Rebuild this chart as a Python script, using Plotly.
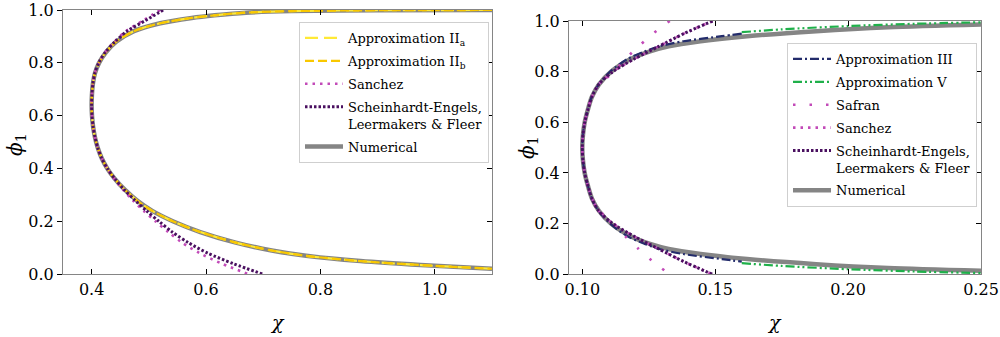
import plotly.graph_objects as go

# ---------------- data: left panel (chi, phi_1) ----------------
L_NUM_CHI = [1.10, 0.90, 0.75, 0.67, 0.615, 0.575, 0.52, 0.474, 0.443, 0.425, 0.413, 0.4058, 0.4022, 0.4006,
             0.400,
             0.4007, 0.4025, 0.4057, 0.4105, 0.4175, 0.4275, 0.441, 0.458, 0.479, 0.506, 0.543,
             0.590, 0.652, 0.715, 0.775, 0.87, 0.975, 1.10]
L_NUM_PHI = [1.000, 0.999, 0.996, 0.990, 0.980, 0.970, 0.950, 0.920, 0.880, 0.840, 0.800, 0.760, 0.720, 0.680,
             0.640,
             0.600, 0.560, 0.520, 0.480, 0.440, 0.400, 0.360, 0.320, 0.280, 0.240, 0.200,
             0.160, 0.120, 0.090, 0.070, 0.050, 0.035, 0.021]
L_IIA_CHI = L_NUM_CHI
L_IIA_PHI = L_NUM_PHI
L_IIB_CHI = L_NUM_CHI
L_IIB_PHI = L_NUM_PHI
L_SAN_CHI = [0.52, 0.49, 0.46, 0.44, 0.4235, 0.4125, 0.4055, 0.4022, 0.4006,
             0.400,
             0.4007, 0.4025, 0.4057, 0.4105, 0.4175, 0.4275, 0.440, 0.455, 0.472, 0.491, 0.512,
             0.534, 0.558, 0.589, 0.628, 0.675]
L_SAN_PHI = [1.00, 0.96, 0.92, 0.88, 0.84, 0.80, 0.76, 0.72, 0.68,
             0.64,
             0.60, 0.56, 0.52, 0.48, 0.44, 0.40, 0.36, 0.32, 0.28, 0.24, 0.20,
             0.16, 0.12, 0.08, 0.04, 0.00]
L_SE_CHI = [0.525, 0.494, 0.462, 0.441, 0.424, 0.4125, 0.4055, 0.4022, 0.4006,
            0.400,
            0.4007, 0.4025, 0.4057, 0.4105, 0.4175, 0.4275, 0.441, 0.457, 0.476, 0.496, 0.518,
            0.541, 0.569, 0.603, 0.648, 0.700]
L_SE_PHI = [1.00, 0.96, 0.92, 0.88, 0.84, 0.80, 0.76, 0.72, 0.68,
            0.64,
            0.60, 0.56, 0.52, 0.48, 0.44, 0.40, 0.36, 0.32, 0.28, 0.24, 0.20,
            0.16, 0.12, 0.08, 0.04, 0.00]

# ---------------- data: right panel (chi, phi_1) ----------------
R_NUM_CHI = [0.25, 0.215, 0.188, 0.162, 0.1445, 0.1325, 0.1255, 0.1182, 0.1108, 0.1063, 0.1036,
             0.1021, 0.1009, 0.10025, 0.100, 0.10025, 0.1009, 0.1021, 0.1036, 0.1063, 0.1108,
             0.1182, 0.1255, 0.1325, 0.1445, 0.162, 0.188, 0.215, 0.25]
R_NUM_PHI = [0.986, 0.975, 0.960, 0.940, 0.920, 0.900, 0.880, 0.850, 0.800, 0.750, 0.700,
             0.650, 0.600, 0.550, 0.500, 0.450, 0.400, 0.350, 0.300, 0.250, 0.200,
             0.150, 0.120, 0.100, 0.080, 0.060, 0.040, 0.025, 0.014]
R_III_CHI = [0.160, 0.1525, 0.138, 0.129, 0.1235, 0.117, 0.1105, 0.1062, 0.1035, 0.1021, 0.1009,
             0.10025, 0.100, 0.10025, 0.1009, 0.1021, 0.1035, 0.1062, 0.1105, 0.117, 0.1235,
             0.129, 0.138, 0.1525, 0.160]
R_III_PHI = [0.950, 0.940, 0.920, 0.900, 0.880, 0.850, 0.800, 0.750, 0.700, 0.650, 0.600,
             0.550, 0.500, 0.450, 0.400, 0.350, 0.300, 0.250, 0.200, 0.150, 0.120,
             0.100, 0.080, 0.060, 0.050]
R_V_CHI = [0.16, 0.175, 0.20, 0.225, 0.25, None, 0.16, 0.175, 0.20, 0.225, 0.25]
R_V_PHI = [0.956, 0.967, 0.980, 0.989, 0.995, None, 0.044, 0.033, 0.020, 0.011, 0.005]
R_SAF_CHI = [0.1329, 0.1266, 0.1212, 0.1162, 0.1120, 0.1065, 0.1036, 0.1021, 0.1009, 0.10025,
             0.100, 0.10025, 0.1009, 0.1021, 0.1036, 0.1065, 0.1120, 0.1162, 0.1212, 0.1266, 0.1329]
R_SAF_PHI = [1.00, 0.95, 0.90, 0.85, 0.80, 0.75, 0.70, 0.65, 0.60, 0.55,
             0.50, 0.45, 0.40, 0.35, 0.30, 0.25, 0.20, 0.15, 0.10, 0.05, 0.00]
R_SE_CHI = [0.149, 0.1382, 0.1288, 0.1195, 0.1115, 0.1062, 0.1036, 0.1021, 0.1009, 0.10025,
            0.100, 0.10025, 0.1009, 0.1021, 0.1036, 0.1062, 0.1115, 0.1195, 0.1288, 0.1382, 0.149]
R_SE_PHI = [1.00, 0.95, 0.90, 0.85, 0.80, 0.75, 0.70, 0.65, 0.60, 0.55,
            0.50, 0.45, 0.40, 0.35, 0.30, 0.25, 0.20, 0.15, 0.10, 0.05, 0.00]
R_SAN_CHI = R_SE_CHI
R_SAN_PHI = R_SE_PHI

L_XTICKS = [0.4, 0.6, 0.8, 1.0]
R_XTICKS = [0.10, 0.15, 0.20, 0.25]
YTICKS = [0.0, 0.2, 0.4, 0.6, 0.8, 1.0]

FONT = "DejaVu Serif"
GRAY = "#858585"
NAVY = "#232c6b"
GREEN = "#1fb04a"
PINK = "#c24ab8"
PURPLE = "#4a1060"
YEL_A = "#ffe936"
YEL_B = "#f9c800"

fig = go.Figure()


def add(x, y, name, color, width, dash, xa, ya, legend, rank):
    fig.add_trace(go.Scatter(
        x=x, y=y, mode="lines", name=name, xaxis=xa, yaxis=ya, legend=legend,
        legendrank=rank, legendgroup=legend + name,
        line=dict(color=color, width=width, dash=dash, shape="spline", smoothing=0.8),
        hoverinfo="skip"))


# left panel
add(L_NUM_CHI, L_NUM_PHI, "Numerical", GRAY, 4.5, "solid", "x", "y", "legend", 2000)
add(L_IIA_CHI, L_IIA_PHI, "Approximation II<sub>a</sub>", YEL_A, 2.2, "13px,6px", "x", "y", "legend", 1)
add(L_IIB_CHI, L_IIB_PHI, "Approximation II<sub>b</sub>", YEL_B, 2.2, "9px,4px", "x", "y", "legend", 2)
add(L_SAN_CHI, L_SAN_PHI, "Sanchez", PINK, 2.6, "2.5px,5px", "x", "y", "legend", 3)
add(L_SE_CHI, L_SE_PHI, "Scheinhardt-Engels,<br>Leermakers & Fleer", PURPLE, 3, "2.5px,2px", "x", "y", "legend", 4)

# right panel
add(R_NUM_CHI, R_NUM_PHI, "Numerical", GRAY, 4.5, "solid", "x2", "y2", "legend2", 2000)
add(R_III_CHI, R_III_PHI, "Approximation III", NAVY, 2.2, "9px,3px,2px,3px", "x2", "y2", "legend2", 1)
add(R_V_CHI, R_V_PHI, "Approximation V", GREEN, 2.2, "9px,3px,2px,3px,2px,3px", "x2", "y2", "legend2", 2)
add(R_SAF_CHI, R_SAF_PHI, "Safran", PINK, 2.6, "2.5px,14px", "x2", "y2", "legend2", 3)
add(R_SAN_CHI, R_SAN_PHI, "Sanchez", PINK, 2.6, "2.5px,5px", "x2", "y2", "legend2", 4)
add(R_SE_CHI, R_SE_PHI, "Scheinhardt-Engels,<br>Leermakers & Fleer", PURPLE, 3, "2.5px,2px", "x2", "y2", "legend2", 5)

# empty traces to hold the right-side mirror axes
for xa, ya in (("x3", "y3"), ("x4", "y4")):
    fig.add_trace(go.Scatter(x=[None], y=[None], xaxis=xa, yaxis=ya, showlegend=False,
                             hoverinfo="skip"))

tickfont = dict(family=FONT, size=16, color="black")
axcommon = dict(showgrid=False, zeroline=False, showline=True, linecolor=GRAY, linewidth=1,
                tickcolor="black", ticklen=5, tickwidth=1, tickfont=tickfont, automargin=False)

L_DOM_X = [0.063, 0.492]
R_DOM_X = [0.569, 0.981]
L_DOM_Y = [(337 - 274.3) / 337, (337 - 10) / 337]
R_DOM_Y = [(337 - 274.3) / 337, (337 - 21) / 337]

legcommon = dict(xanchor="left", yanchor="top", bgcolor="white", bordercolor="#cfcfcf",
                 borderwidth=1, font=dict(family=FONT, size=13, color="black"),
                 itemwidth=38, valign="top", traceorder="grouped", tracegroupgap=3)

fig.update_layout(
    width=1000, height=337, margin=dict(l=0, r=0, t=0, b=0),
    paper_bgcolor="white", plot_bgcolor="white",
    font=dict(family=FONT, color="black"),
    xaxis=dict(domain=L_DOM_X, range=[0.35, 1.10], anchor="y", tickvals=L_XTICKS,
               tickformat=".1f", ticks="inside", mirror="ticks", **axcommon),
    yaxis=dict(domain=L_DOM_Y, range=[0, 1], anchor="x", tickvals=YTICKS,
               tickformat=".1f", ticks="outside", mirror=True, **axcommon),
    xaxis2=dict(domain=R_DOM_X, range=[0.095, 0.25], anchor="y2", tickvals=R_XTICKS,
                tickformat=".2f", ticks="inside", mirror="ticks", **axcommon),
    yaxis2=dict(domain=R_DOM_Y, range=[0, 1], anchor="x2", tickvals=YTICKS,
                tickformat=".1f", ticks="outside", mirror=True, **axcommon),
    xaxis3=dict(overlaying="x", anchor="y3", range=[0.35, 1.10], visible=False),
    yaxis3=dict(overlaying="y", anchor="x3", side="right", range=[0, 1], tickvals=YTICKS,
                ticks="inside", ticklen=5, tickcolor="black", showticklabels=False,
                showline=False, showgrid=False, zeroline=False),
    xaxis4=dict(overlaying="x2", anchor="y4", range=[0.095, 0.25], visible=False),
    yaxis4=dict(overlaying="y2", anchor="x4", side="right", range=[0, 1], tickvals=YTICKS,
                ticks="inside", ticklen=5, tickcolor="black", showticklabels=False,
                showline=False, showgrid=False, zeroline=False),
    legend=dict(x=0.299, y=1 - 22 / 337, **legcommon),
    legend2=dict(x=0.787, y=1 - 43 / 337, **legcommon),
    annotations=[
        dict(text="<i>χ</i>", x=sum(L_DOM_X) / 2, y=1 - 322 / 337, xref="paper", yref="paper",
             xanchor="center", yanchor="middle", showarrow=False, font=dict(family=FONT, size=19)),
        dict(text="<i>χ</i>", x=sum(R_DOM_X) / 2, y=1 - 322 / 337, xref="paper", yref="paper",
             xanchor="center", yanchor="middle", showarrow=False, font=dict(family=FONT, size=19)),
        dict(text="<i>ϕ</i><sub>1</sub>", x=16 / 1000, y=1 - 145 / 337, xref="paper", yref="paper",
             xanchor="center", yanchor="middle", showarrow=False, textangle=-90,
             font=dict(family=FONT, size=20)),
        dict(text="<i>ϕ</i><sub>1</sub>", x=528 / 1000, y=1 - 148 / 337, xref="paper", yref="paper",
             xanchor="center", yanchor="middle", showarrow=False, textangle=-90,
             font=dict(family=FONT, size=20)),
    ],
)

fig.write_html("out.html")
